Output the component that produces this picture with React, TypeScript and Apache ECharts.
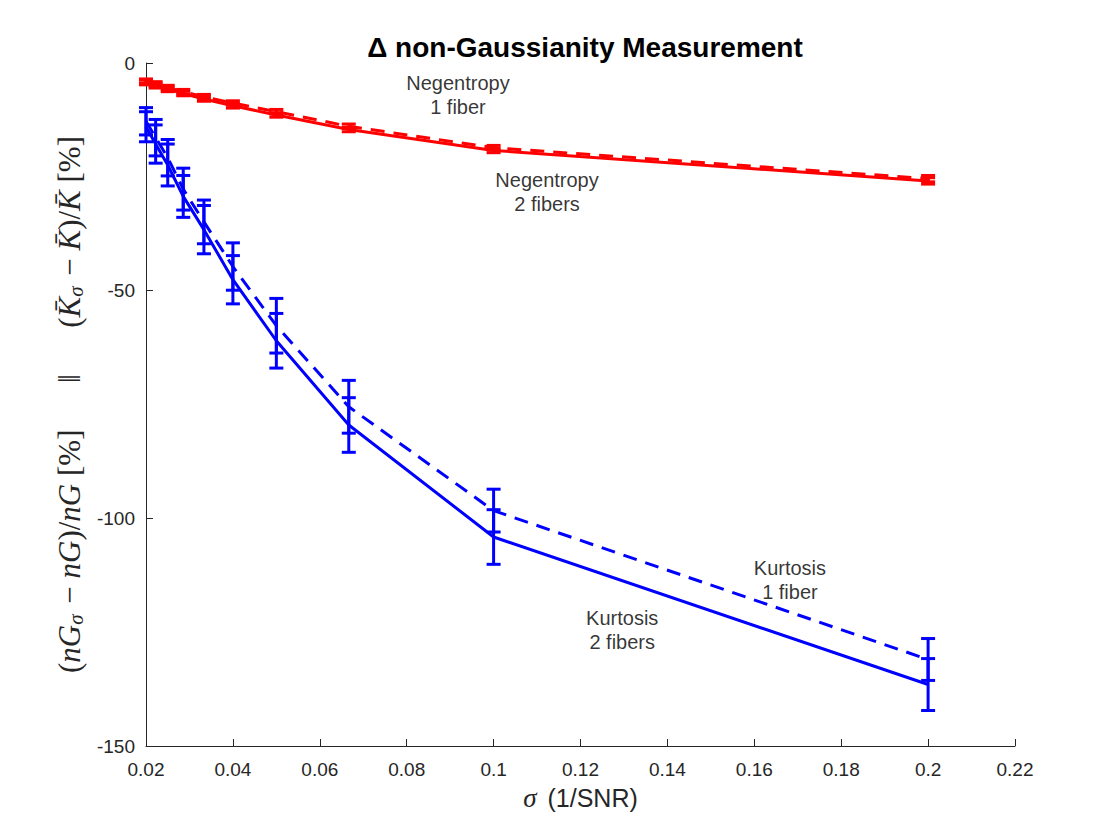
import React, { useEffect, useRef } from "react";
import * as echarts from "echarts";

// sigma = 1/SNR
const sigma = [0.02, 0.02222, 0.025, 0.02857, 0.03333, 0.04, 0.05, 0.06667, 0.1, 0.2];

// Kurtosis (blue)
const kurt2Mean = [-14, -17.8, -22.4, -29.3, -36.6, -47.6, -61, -79.5, -104.1, -136.5];
const kurt2Err = [3.3, 4.2, 4.6, 4.6, 5.3, 5.3, 6.0, 6.0, 6.0, 5.7];
const kurt1Mean = [-12.8, -16.4, -20.8, -27.7, -34.9, -44.7, -57.7, -75.5, -98.3, -131];
const kurt1Err = [3.0, 4.0, 4.0, 4.6, 4.8, 5.2, 6.0, 5.8, 4.7, 4.6];

// Negentropy (red)
const neg2Mean = [-4.3, -5.0, -5.8, -6.7, -7.9, -9.4, -11.4, -14.6, -19.2, -25.9];
const neg2Err = [0.5, 0.5, 0.5, 0.5, 0.5, 0.5, 0.5, 0.5, 0.5, 0.7];
const neg1Mean = [-4.0, -4.6, -5.4, -6.3, -7.4, -8.8, -10.7, -13.9, -18.6, -25.4];
const neg1Err = [0.5, 0.5, 0.5, 0.5, 0.5, 0.5, 0.5, 0.5, 0.5, 0.7];

// text annotations
const annText = ["Negentropy\n1 fiber", "Negentropy\n2 fibers", "Kurtosis\n1 fiber", "Kurtosis\n2 fibers"];
const annX = [0.0918, 0.1123, 0.1682, 0.1296];
const annY = [-7.0, -28.3, -113.6, -124.5];

const xTicks = { min: 0.02, max: 0.22, interval: 0.02 };
const yTicks = { min: -150, max: 0, interval: 50 };

const BLUE = "#0000ff";
const RED = "#ff0000";
const AX = "#262626";

function lineSeries(means: number[], color: string, dashed: boolean, z: number) {
  return {
    type: "line",
    data: sigma.map((x, i) => [x, means[i]]),
    symbol: "none",
    z,
    lineStyle: {
      color,
      width: 3,
      type: dashed ? [14, 9] : "solid",
      cap: "butt",
    },
  };
}

function errSeries(means: number[], errs: number[], color: string, z: number) {
  return {
    type: "custom",
    z,
    data: sigma.map((x, i) => [x, means[i], errs[i]]),
    encode: { x: 0, y: 1 },
    renderItem: (params: any, api: any) => {
      const x = api.value(0);
      const y = api.value(1);
      const e = api.value(2);
      const top = api.coord([x, y + e]);
      const bot = api.coord([x, y - e]);
      const w = 7;
      const style = { stroke: color, lineWidth: 3, fill: "none" };
      return {
        type: "group",
        children: [
          { type: "line", shape: { x1: top[0], y1: top[1], x2: bot[0], y2: bot[1] }, style },
          { type: "line", shape: { x1: top[0] - w, y1: top[1], x2: top[0] + w, y2: top[1] }, style },
          { type: "line", shape: { x1: bot[0] - w, y1: bot[1], x2: bot[0] + w, y2: bot[1] }, style },
        ],
      };
    },
  };
}

export default function App() {
  const ref = useRef<HTMLDivElement>(null);
  useEffect(() => {
    if (!ref.current) return;
    const chart = echarts.init(ref.current, undefined, { renderer: "svg" });
    const fontSans = "'Liberation Sans', Arial, Helvetica, sans-serif";
    const fontSerif = "'Liberation Serif', 'Times New Roman', serif";
    chart.setOption({
      animation: false,
      backgroundColor: "#ffffff",
      title: {
        text: "Δ non-Gaussianity Measurement",
        left: 580,
        top: 28,
        textAlign: "center",
        textStyle: { fontFamily: fontSans, fontSize: 28, fontWeight: "bold", color: "#000" },
      },
      grid: { left: 146, right: 105, top: 63, bottom: 94, containLabel: false },
      xAxis: {
        type: "value",
        min: xTicks.min,
        max: xTicks.max,
        interval: xTicks.interval,
        name: "{s|σ}{t| (1/SNR)}",
        nameLocation: "middle",
        nameGap: 38,
        nameTextStyle: {
          rich: {
            s: { fontFamily: fontSerif, fontStyle: "italic", fontSize: 27, color: AX, padding: [0, 4, 0, 0] },
            t: { fontFamily: fontSans, fontSize: 25, color: AX },
          },
        },
        axisLine: { show: true, onZero: false, lineStyle: { color: AX, width: 1 } },
        axisTick: { show: true, inside: true, length: 7, lineStyle: { color: AX } },
        axisLabel: {
          color: AX,
          fontFamily: fontSans,
          fontSize: 19,
          margin: 14,
          formatter: (v: number) => String(parseFloat(v.toFixed(2))),
        },
        splitLine: { show: false },
      },
      yAxis: {
        type: "value",
        min: yTicks.min,
        max: yTicks.max,
        interval: yTicks.interval,
        name:
          "{u|(}{i|nG}{s|σ}{u| − }{i|nG}{u|)/}{i|nG}{u| [%]      ‖      (}{i|K̄}{s|σ}{u| − }{i|K̄}{u|)/}{i|K̄}{u| [%]}",
        nameLocation: "middle",
        nameGap: 54,
        nameRotate: 90,
        nameTextStyle: {
          rich: {
            u: { fontFamily: fontSerif, fontSize: 31, color: AX },
            i: { fontFamily: fontSerif, fontStyle: "italic", fontSize: 31, color: AX },
            s: { fontFamily: fontSerif, fontStyle: "italic", fontSize: 21, color: AX, verticalAlign: "bottom", padding: [12, 3, 0, 0] },
          },
        },
        axisLine: { show: true, onZero: false, lineStyle: { color: AX, width: 1 } },
        axisTick: { show: true, inside: true, length: 7, lineStyle: { color: AX } },
        axisLabel: { color: AX, fontFamily: fontSans, fontSize: 19, margin: 11 },
        splitLine: { show: false },
      },
      series: [
        lineSeries(neg1Mean, RED, true, 2),
        lineSeries(neg2Mean, RED, false, 2),
        errSeries(neg1Mean, neg1Err, RED, 3),
        errSeries(neg2Mean, neg2Err, RED, 3),
        lineSeries(kurt1Mean, BLUE, true, 4),
        lineSeries(kurt2Mean, BLUE, false, 4),
        errSeries(kurt1Mean, kurt1Err, BLUE, 5),
        errSeries(kurt2Mean, kurt2Err, BLUE, 5),
        {
          type: "scatter",
          symbolSize: 0,
          z: 6,
          data: annX.map((x, i) => ({ value: [x, annY[i]], name: annText[i] })),
          label: {
            show: true,
            position: "inside",
            formatter: (p: any) => p.name,
            color: "#000",
            fontFamily: fontSans,
            fontSize: 20,
            lineHeight: 24,
            align: "center",
            verticalAlign: "middle",
          },
          silent: true,
        },
      ],
    });
    return () => chart.dispose();
  }, []);
  return (
    <div
      ref={ref}
      style={{ position: "fixed", left: 0, top: 0, width: 1120, height: 840, background: "#fff" }}
    />
  );
}
